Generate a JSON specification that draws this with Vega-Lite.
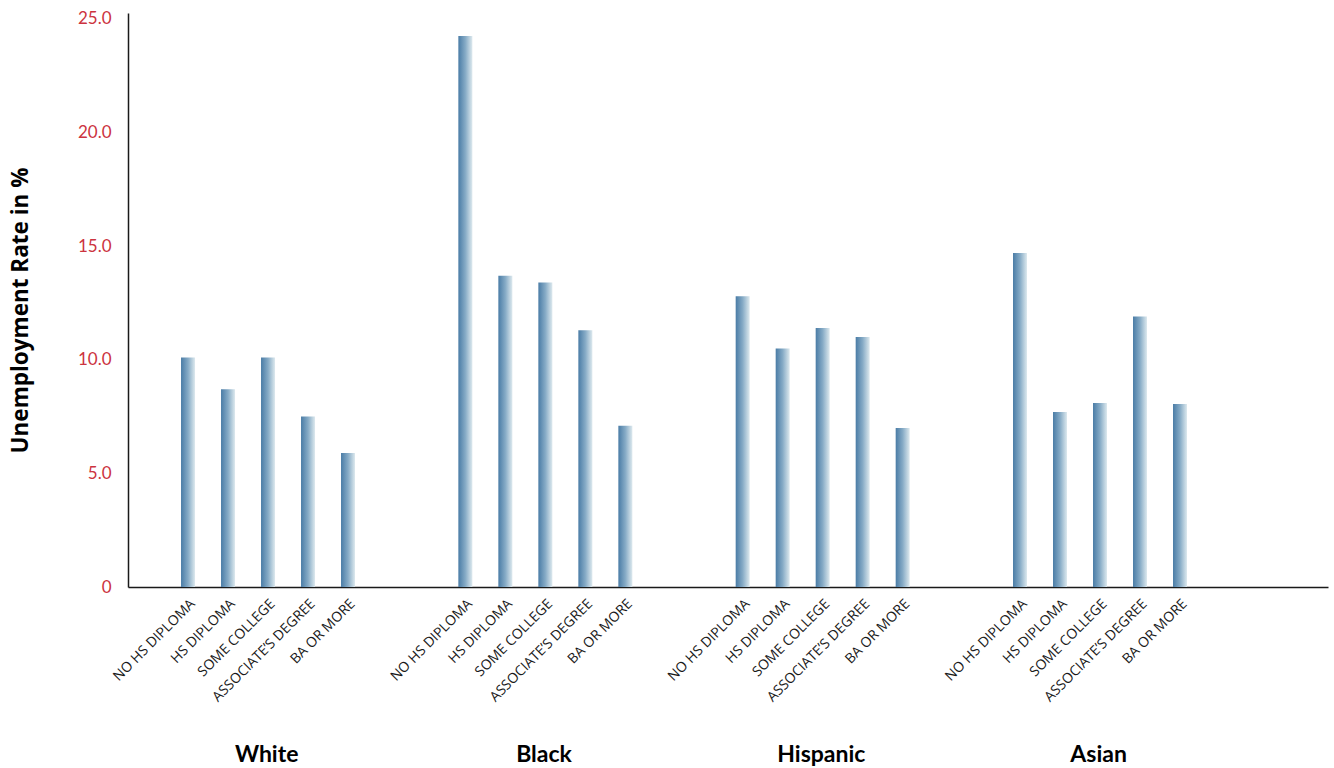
{
  "$schema": "https://vega.github.io/schema/vega-lite/v6.json",
  "autosize": {"type": "none"},
  "padding": {"left": 128, "top": 13, "right": 6, "bottom": 181},
  "width": 1200,
  "height": 574,
  "background": "white",
  "config": {
    "font": "Lato",
    "view": {"stroke": null}
  },
  "data": {
    "values": [
      {"race": "White", "education": "NO HS DIPLOMA", "rate": 10.1},
      {"race": "White", "education": "HS DIPLOMA", "rate": 8.7},
      {"race": "White", "education": "SOME COLLEGE", "rate": 10.1},
      {"race": "White", "education": "ASSOCIATE’S DEGREE", "rate": 7.5},
      {"race": "White", "education": "BA OR MORE", "rate": 5.9},
      {"race": "Black", "education": "NO HS DIPLOMA", "rate": 24.25},
      {"race": "Black", "education": "HS DIPLOMA", "rate": 13.7},
      {"race": "Black", "education": "SOME COLLEGE", "rate": 13.4},
      {"race": "Black", "education": "ASSOCIATE’S DEGREE", "rate": 11.3},
      {"race": "Black", "education": "BA OR MORE", "rate": 7.1},
      {"race": "Hispanic", "education": "NO HS DIPLOMA", "rate": 12.8},
      {"race": "Hispanic", "education": "HS DIPLOMA", "rate": 10.5},
      {"race": "Hispanic", "education": "SOME COLLEGE", "rate": 11.4},
      {"race": "Hispanic", "education": "ASSOCIATE’S DEGREE", "rate": 11.0},
      {"race": "Hispanic", "education": "BA OR MORE", "rate": 7.0},
      {"race": "Asian", "education": "NO HS DIPLOMA", "rate": 14.7},
      {"race": "Asian", "education": "HS DIPLOMA", "rate": 7.7},
      {"race": "Asian", "education": "SOME COLLEGE", "rate": 8.1},
      {"race": "Asian", "education": "ASSOCIATE’S DEGREE", "rate": 11.9},
      {"race": "Asian", "education": "BA OR MORE", "rate": 8.05}
    ]
  },
  "encoding": {
    "x": {
      "field": "race",
      "type": "nominal",
      "sort": ["White", "Black", "Hispanic", "Asian"],
      "scale": {"paddingInner": 0, "paddingOuter": 0.1635, "align": 0},
      "axis": {
        "title": null,
        "labelAngle": 0,
        "labelFont": "Lato",
        "labelFontWeight": "bold",
        "labelFontSize": 23,
        "labelColor": "#000000",
        "labelPadding": 156,
        "labelBaseline": "top",
        "ticks": false,
        "grid": false,
        "domainColor": "#1a1a1a",
        "domainWidth": 1.5
      }
    },
    "xOffset": {
      "field": "education",
      "type": "nominal",
      "sort": ["NO HS DIPLOMA", "HS DIPLOMA", "SOME COLLEGE", "ASSOCIATE’S DEGREE", "BA OR MORE"],
      "scale": {"paddingInner": 0.0667, "paddingOuter": 1, "align": 0.517}
    }
  },
  "layer": [
    {
      "mark": {
        "type": "bar",
        "width": 14,
        "color": {
          "gradient": "linear",
          "x1": 0, "y1": 0, "x2": 1, "y2": 0,
          "stops": [
            {"offset": 0, "color": "#4a7ca6"},
            {"offset": 0.5, "color": "#86abc6"},
            {"offset": 1, "color": "#dde9ee"}
          ]
        }
      },
      "encoding": {
        "y": {
          "field": "rate",
          "type": "quantitative",
          "scale": {"domain": [0, 25.26], "nice": false, "zero": true},
          "axis": {
            "title": "Unemployment Rate in %",
            "titleFont": "Open Sans",
            "titleFontSize": 22.5,
            "titleFontWeight": "bold",
            "titleColor": "#000000",
            "titlePadding": 45,
            "titleY": 297,
            "values": [0, 5, 10, 15, 20, 25],
            "labelExpr": "datum.value == 0 ? '0' : format(datum.value, '.1f')",
            "labelFont": "Lato",
            "labelFontSize": 17,
            "labelColor": "#cc3340",
            "labelPadding": 17,
            "ticks": false,
            "grid": false,
            "domainColor": "#1a1a1a",
            "domainWidth": 1.5
          }
        }
      }
    },
    {
      "mark": {
        "type": "text",
        "angle": 315,
        "align": "right",
        "baseline": "middle",
        "dx": -7,
        "dy": 14,
        "font": "Open Sans",
        "fontSize": 14,
        "color": "#1a1a1a"
      },
      "encoding": {
        "y": {"datum": 0, "type": "quantitative"},
        "text": {"field": "education"}
      }
    }
  ]
}
